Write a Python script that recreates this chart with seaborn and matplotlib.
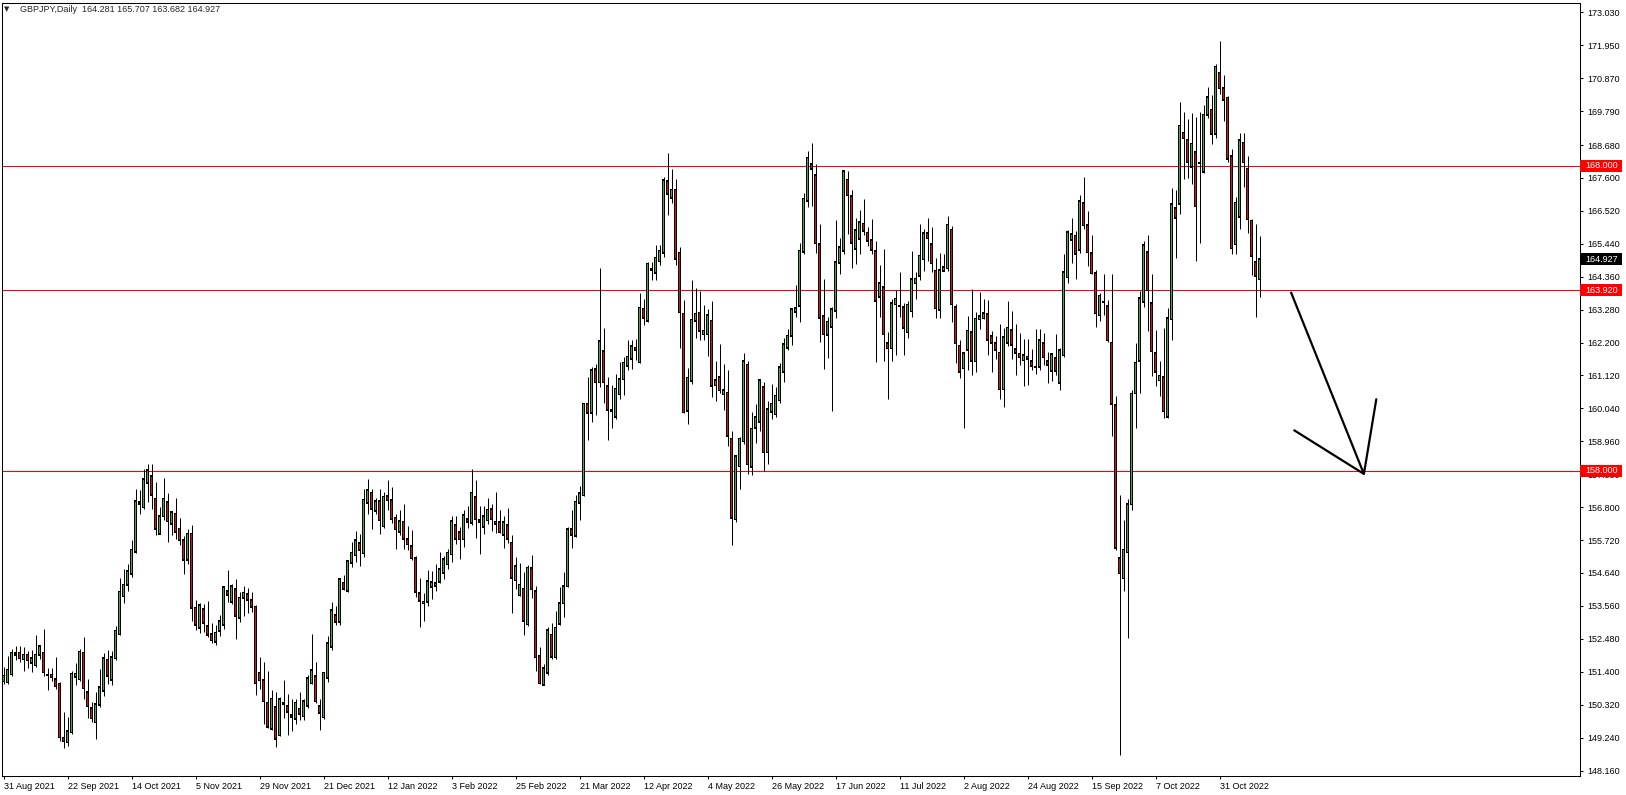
import matplotlib
matplotlib.use("Agg")
import matplotlib.pyplot as plt
import matplotlib.transforms as mtransforms
from matplotlib.patches import Rectangle
import numpy as np
import pandas as pd
import seaborn as sns

symbol = "GBPJPY,Daily"
first_day = "2021-08-31"

opens = [
    151.09, 151.06, 151.31, 152.00, 152.02, 151.81, 151.95, 151.69, 151.62, 151.95,
    152.02, 151.30, 151.30, 151.16, 151.00, 149.23, 149.09, 149.41, 151.24, 151.16,
    152.02, 150.73, 150.21, 149.74, 150.31, 150.78, 151.80, 151.13, 151.84, 152.63,
    153.88, 154.25, 154.62, 155.33, 156.91, 156.80, 157.60, 157.81, 157.08, 155.93,
    156.50, 156.96, 156.26, 156.58, 156.09, 155.71, 155.07, 155.93, 153.50, 152.84,
    153.45, 152.89, 152.63, 152.38, 152.74, 152.95, 154.04, 153.69, 154.11, 153.17,
    153.82, 153.94, 153.75, 153.53, 151.36, 151.12, 150.38, 149.53, 150.23, 149.32,
    150.39, 150.27, 149.97, 149.86, 150.19, 149.94, 150.28, 151.03, 151.25, 150.27,
    149.90, 151.21, 152.22, 153.25, 153.04, 154.32, 154.05, 154.98, 155.22, 155.61,
    155.28, 156.94, 157.27, 156.68, 156.99, 156.18, 157.16, 157.03, 156.46, 155.99,
    156.32, 155.75, 155.52, 155.12, 153.97, 153.64, 153.69, 154.19, 154.22, 154.35,
    154.65, 154.93, 155.25, 156.21, 155.97, 155.74, 156.41, 156.29, 157.12, 156.37,
    156.15, 156.37, 156.73, 156.32, 156.30, 155.90, 156.21, 155.64, 154.40, 153.91,
    154.13, 152.96, 154.79, 154.04, 151.91, 150.98, 151.36, 152.62, 151.87, 152.98,
    153.64, 154.21, 156.07, 155.86, 156.95, 157.19, 160.20, 159.89, 161.33, 160.89,
    161.92, 160.77, 159.96, 159.76, 160.51, 160.99, 161.44, 161.67, 162.03, 161.56,
    163.31, 162.91, 164.62, 164.49, 164.86, 165.14, 167.49, 166.95, 167.21, 165.15,
    163.15, 159.96, 160.94, 162.91, 163.18, 162.47, 162.47, 162.92, 160.80, 161.07,
    160.50, 160.56, 159.05, 156.40, 158.14, 158.96, 161.47, 158.12, 159.40, 159.60,
    160.73, 158.60, 159.93, 159.85, 160.30, 161.25, 162.03, 162.42, 163.21, 163.41,
    165.18, 166.85, 168.05, 167.69, 165.42, 163.07, 162.45, 162.72, 163.24, 164.82,
    165.21, 167.54, 167.00, 165.28, 165.61, 166.10, 165.81, 165.56, 165.20, 163.70,
    164.01, 162.18, 162.01, 163.46, 163.40, 163.36, 162.54, 163.22, 164.15, 164.39,
    164.93, 165.79, 165.43, 164.55, 163.27, 164.56, 164.64, 165.90, 163.36, 162.10,
    161.36, 161.96, 162.54, 161.58, 162.96, 163.00, 163.13, 162.40, 162.18, 161.87,
    160.67, 162.19, 162.60, 161.98, 161.84, 161.62, 161.67, 161.59, 161.40, 161.40,
    162.18, 161.59, 161.28, 161.69, 160.88, 161.78, 164.35, 165.57, 165.70, 165.25,
    166.77, 166.05, 165.13, 164.48, 163.10, 163.54, 163.39, 162.20, 160.15, 155.13,
    154.47, 155.32, 156.90, 160.54, 161.61, 163.54, 165.16, 163.49, 161.85, 160.96,
    161.07, 159.76, 162.96, 166.60, 166.76, 169.08, 168.85, 167.96, 168.45, 168.09,
    167.80, 169.67, 169.83, 169.05, 171.05, 170.55, 170.23, 168.31, 165.42, 166.32,
    168.75, 167.90, 166.19, 164.83, 164.281,
]
highs = [
    151.55, 151.93, 152.15, 152.26, 152.23, 152.20, 152.09, 152.12, 152.62, 152.29,
    152.80, 151.53, 151.53, 151.88, 151.06, 150.09, 149.93, 151.44, 151.69, 152.15,
    152.55, 151.16, 150.40, 150.73, 151.49, 152.02, 152.12, 152.09, 152.91, 154.48,
    154.77, 154.92, 155.71, 157.40, 157.35, 158.04, 158.20, 158.20, 157.64, 156.80,
    157.75, 157.26, 156.69, 157.10, 156.46, 155.87, 156.07, 156.23, 153.77, 153.65,
    153.63, 153.71, 153.00, 152.92, 153.25, 154.22, 154.73, 154.27, 154.43, 154.02,
    154.22, 154.15, 154.02, 153.58, 151.89, 151.72, 151.43, 150.79, 150.72, 150.58,
    151.12, 150.68, 150.49, 150.50, 150.72, 150.52, 151.29, 152.63, 151.72, 150.50,
    151.40, 152.57, 153.69, 153.56, 154.49, 154.57, 155.06, 155.66, 156.01, 155.93,
    157.39, 157.74, 157.38, 157.10, 157.38, 157.30, 157.69, 157.47, 156.59, 156.70,
    156.90, 156.19, 156.05, 155.19, 154.48, 154.00, 154.73, 154.71, 154.93, 155.33,
    155.19, 155.44, 156.50, 156.50, 156.15, 156.70, 156.83, 158.05, 157.69, 156.83,
    156.83, 157.11, 156.90, 157.30, 156.72, 156.50, 156.78, 155.88, 155.17, 154.98,
    154.68, 154.90, 155.22, 154.21, 152.22, 151.67, 152.87, 153.00, 153.40, 154.18,
    154.68, 156.15, 156.70, 157.21, 157.49, 160.23, 161.07, 161.40, 161.49, 164.63,
    162.69, 161.07, 160.82, 161.18, 161.57, 161.71, 162.28, 162.27, 162.33, 163.84,
    163.62, 164.84, 164.84, 165.39, 165.41, 167.63, 168.43, 167.90, 167.57, 165.33,
    163.58, 161.38, 164.24, 163.99, 163.89, 163.42, 163.31, 163.55, 161.60, 162.16,
    161.51, 161.29, 159.29, 158.50, 159.10, 161.86, 161.58, 159.92, 160.19, 161.00,
    160.90, 160.29, 160.84, 160.75, 161.54, 162.34, 162.64, 163.34, 164.08, 165.45,
    167.11, 168.48, 168.75, 168.05, 166.10, 164.30, 163.05, 163.37, 166.21, 165.64,
    167.87, 167.83, 167.19, 166.30, 166.54, 166.92, 165.99, 166.27, 165.52, 164.74,
    165.26, 162.56, 163.63, 163.93, 164.50, 163.49, 163.57, 165.21, 164.53, 166.09,
    165.92, 166.28, 165.98, 164.97, 165.13, 165.11, 166.36, 166.01, 163.46, 162.29,
    161.88, 163.07, 163.95, 163.20, 163.85, 163.62, 163.60, 162.58, 162.40, 162.80,
    162.69, 163.56, 163.22, 162.82, 162.51, 162.31, 162.31, 161.99, 162.66, 162.63,
    162.53, 161.90, 161.87, 162.47, 162.01, 165.11, 165.89, 166.30, 165.86, 167.03,
    167.62, 166.51, 165.73, 164.58, 163.81, 164.44, 163.60, 164.44, 160.44, 157.20,
    156.39, 157.08, 160.63, 162.20, 163.90, 165.54, 165.72, 164.45, 162.61, 161.58,
    162.67, 163.32, 167.28, 167.20, 170.09, 169.78, 169.54, 169.73, 169.59, 169.76,
    169.98, 170.60, 170.32, 171.34, 172.10, 170.98, 170.30, 168.56, 166.98, 169.08,
    169.07, 168.31, 166.27, 166.08, 165.707,
]
lows = [
    151.00, 151.00, 151.27, 151.77, 151.71, 151.44, 151.53, 151.38, 151.55, 151.82,
    151.27, 150.80, 151.11, 150.84, 149.12, 148.89, 148.96, 149.36, 150.95, 151.11,
    150.51, 149.87, 149.74, 149.20, 150.23, 150.62, 151.00, 150.98, 151.77, 152.59,
    153.65, 154.06, 154.51, 155.29, 156.58, 156.75, 156.97, 156.75, 155.90, 155.91,
    156.37, 155.66, 155.90, 155.74, 155.55, 154.62, 154.95, 153.06, 152.78, 152.68,
    152.70, 152.54, 152.34, 152.29, 152.57, 152.81, 153.69, 153.63, 152.46, 153.03,
    153.23, 153.34, 153.36, 150.65, 150.82, 149.70, 149.56, 149.50, 148.93, 149.28,
    149.89, 149.32, 149.46, 149.70, 149.81, 149.81, 150.21, 150.99, 150.38, 149.50,
    149.86, 151.07, 152.11, 152.95, 152.95, 154.07, 154.02, 154.84, 155.00, 154.86,
    155.15, 156.56, 156.07, 156.56, 155.93, 156.13, 156.70, 156.29, 155.42, 155.90,
    155.42, 155.39, 155.06, 153.86, 152.87, 153.06, 153.56, 153.78, 154.05, 154.30,
    154.44, 154.77, 155.00, 155.58, 155.09, 155.50, 156.13, 156.21, 155.80, 155.26,
    155.91, 156.24, 156.02, 155.94, 155.94, 155.47, 155.61, 153.33, 154.13, 153.88,
    152.62, 152.90, 153.83, 151.43, 151.01, 150.96, 151.29, 151.83, 151.83, 152.95,
    153.20, 154.18, 155.46, 155.82, 156.37, 157.17, 159.00, 159.58, 159.82, 160.75,
    160.22, 159.00, 159.41, 159.69, 160.34, 160.47, 161.29, 161.34, 161.62, 161.54,
    162.76, 162.87, 164.26, 164.24, 164.75, 165.00, 166.40, 166.78, 164.76, 162.02,
    159.89, 159.52, 160.83, 162.35, 162.27, 162.27, 161.75, 160.41, 160.27, 160.55,
    160.00, 158.80, 155.55, 156.32, 157.39, 158.88, 157.90, 157.87, 158.90, 159.30,
    158.00, 158.20, 159.68, 159.77, 160.23, 160.92, 161.95, 162.12, 163.05, 162.88,
    165.10, 166.65, 166.67, 165.15, 162.23, 161.32, 161.70, 159.96, 162.99, 164.44,
    165.12, 165.75, 164.65, 164.79, 165.12, 165.72, 165.36, 165.10, 161.57, 163.05,
    161.58, 160.35, 161.58, 161.79, 163.03, 161.79, 162.34, 163.05, 163.63, 164.26,
    164.55, 164.86, 164.53, 162.99, 162.99, 164.55, 164.55, 162.86, 161.52, 161.03,
    159.41, 161.30, 161.12, 161.25, 162.64, 162.98, 161.79, 161.25, 161.65, 160.34,
    160.10, 162.09, 161.65, 161.15, 161.47, 160.78, 160.81, 161.30, 161.18, 161.30,
    161.47, 160.88, 160.93, 161.12, 160.65, 161.72, 164.16, 164.82, 164.29, 165.13,
    165.92, 164.70, 164.44, 162.72, 162.91, 163.10, 162.22, 159.12, 155.41, 148.67,
    154.06, 152.52, 156.70, 159.40, 160.56, 163.38, 162.59, 161.09, 160.76, 160.46,
    159.73, 159.73, 162.29, 164.99, 166.41, 167.56, 167.60, 167.39, 164.88, 165.47,
    167.77, 169.57, 168.72, 168.92, 170.34, 169.46, 168.12, 165.09, 165.10, 165.91,
    167.30, 165.78, 164.41, 163.03, 163.682,
]
closes = [
    151.27, 151.46, 152.02, 151.96, 151.84, 151.95, 151.78, 151.85, 151.95, 152.23,
    151.38, 151.29, 151.22, 150.92, 149.25, 149.12, 149.45, 151.33, 151.33, 152.06,
    150.86, 150.27, 149.87, 150.34, 150.89, 151.85, 151.27, 151.88, 152.75, 154.03,
    154.25, 154.69, 155.41, 156.99, 156.96, 157.71, 158.01, 157.21, 156.09, 156.50,
    157.08, 156.33, 156.63, 156.00, 155.71, 155.07, 155.93, 153.50, 152.94, 153.58,
    153.01, 152.62, 152.43, 152.68, 153.05, 154.17, 153.93, 154.20, 153.23, 153.83,
    154.00, 153.77, 153.53, 151.03, 151.12, 150.44, 149.59, 150.52, 149.21, 150.49,
    150.35, 150.08, 149.92, 150.39, 150.03, 150.43, 151.18, 151.45, 150.44, 150.06,
    151.36, 152.33, 153.42, 153.04, 154.44, 154.13, 155.03, 155.31, 155.72, 155.41,
    157.05, 157.36, 156.75, 156.99, 156.37, 157.14, 157.03, 156.41, 156.08, 156.34,
    155.77, 155.59, 155.12, 154.02, 153.73, 153.70, 154.37, 154.33, 154.30, 154.77,
    155.09, 155.31, 156.34, 155.77, 155.74, 156.54, 156.32, 157.28, 156.41, 156.32,
    156.50, 156.72, 156.41, 156.26, 155.97, 156.30, 155.77, 154.49, 154.86, 154.26,
    153.07, 154.82, 154.10, 151.87, 151.03, 151.51, 152.76, 151.89, 152.85, 153.64,
    154.21, 156.07, 155.90, 156.97, 157.25, 160.20, 159.89, 161.29, 160.89, 162.24,
    160.89, 160.00, 159.98, 160.69, 160.99, 161.54, 161.73, 162.08, 161.97, 163.34,
    163.02, 164.79, 164.59, 164.98, 165.22, 167.52, 167.08, 167.21, 164.95, 163.20,
    159.92, 161.05, 162.95, 163.15, 162.58, 162.58, 163.09, 160.78, 160.96, 160.63,
    160.63, 159.14, 156.45, 158.47, 159.05, 161.58, 158.20, 159.38, 159.75, 160.97,
    158.60, 160.01, 160.20, 160.46, 161.39, 162.14, 162.42, 163.29, 163.32, 165.21,
    166.92, 168.26, 167.90, 165.45, 163.01, 162.48, 162.88, 163.29, 164.83, 165.32,
    167.82, 167.03, 165.47, 165.88, 166.14, 165.86, 165.54, 165.25, 163.57, 164.14,
    162.47, 162.01, 163.49, 163.63, 163.41, 162.69, 163.44, 164.28, 164.29, 165.04,
    165.79, 165.62, 164.80, 163.33, 164.58, 164.67, 166.06, 163.46, 162.18, 161.25,
    161.85, 162.58, 161.61, 162.98, 163.07, 163.16, 162.29, 162.20, 161.96, 160.67,
    162.37, 162.69, 162.13, 161.87, 161.72, 161.78, 161.74, 161.44, 161.41, 162.28,
    161.72, 161.47, 161.82, 161.28, 161.94, 164.50, 165.82, 165.76, 165.11, 166.84,
    166.05, 165.17, 164.48, 163.16, 163.73, 163.53, 162.28, 160.19, 155.47, 154.63,
    155.41, 156.89, 160.52, 161.54, 163.65, 165.40, 163.92, 161.91, 161.25, 161.11,
    159.94, 163.00, 166.74, 166.30, 169.32, 168.91, 168.12, 168.72, 166.68, 168.08,
    169.67, 170.25, 169.05, 171.25, 170.55, 170.16, 168.23, 165.29, 166.79, 168.83,
    168.12, 166.24, 165.05, 164.39, 164.927,
]

# horizontal support / resistance lines drawn on the chart
levels = [168.0, 163.92, 158.0]

# price scale labels on the right
price_ticks = [173.03, 171.95, 170.87, 169.79, 168.68, 167.60, 166.52, 165.44,
               164.36, 163.28, 162.20, 161.12, 160.04, 158.96, 157.88, 156.80,
               155.72, 154.64, 153.56, 152.48, 151.40, 150.32, 149.24, 148.16]

# hand drawn arrow (bar index, price)
arrow_x = [321.9, 340.1, 343.2]
arrow_y = [163.84, 157.89, 160.34]
wing_x = [340.1, 322.7]
wing_y = [157.89, 159.32]

bull = "#30b830"
bear = "#e01010"

sns.set_theme(style="white")
plt.rcParams['font.family'] = ['Liberation Sans', 'DejaVu Sans']

W, H = 1626, 795
fig = plt.figure(figsize=(W / 100, H / 100), dpi=100)
fig.patch.set_facecolor("white")
ax = fig.add_axes([2 / W, 19 / H, 1578 / W, 773 / H])
ax.set_facecolor("white")

o = np.array(opens)
h = np.array(highs)
l = np.array(lows)
c = np.array(closes)
n = len(c)
idx = np.arange(n)

px = 1 / 30.48            # one screen pixel in price units
up = c >= o
body_lo = np.minimum(o, c)
body_hi = np.maximum(o, c)
cols = np.where(up, bull, bear)

# wicks, black outline boxes, then coloured fill inside
ax.vlines(idx, l, h, color="black", linewidth=0.72, zorder=3)
ax.bar(idx, body_hi - body_lo + 2 * px, bottom=body_lo - px, width=0.75,
       color="black", linewidth=0, zorder=4)
inner = np.maximum(body_hi - body_lo - px, 0)
ax.bar(idx, inner, bottom=body_lo + px / 2, width=0.25, color=cols,
       linewidth=0, zorder=5)

for lv in levels:
    ax.axhline(lv, color="red", linewidth=0.75, zorder=2)

ax.plot(arrow_x, arrow_y, color="black", linewidth=1.6, solid_joinstyle="miter", zorder=6)
ax.plot(wing_x, wing_y, color="black", linewidth=1.6, zorder=6)

ax.set_xlim(-0.375, 394.125)
ax.set_ylim(147.98, 173.34)

for s in ax.spines.values():
    s.set_color("black")
    s.set_linewidth(0.75)
    s.set_visible(True)

# right price scale
ax.yaxis.tick_right()
ax.set_yticks(price_ticks)
ax.set_yticklabels([f"{v:.3f}" for v in price_ticks])
ax.tick_params(axis="y", direction="out", length=2.5, width=0.75, pad=3,
               labelsize=6.5, colors="black", right=True, left=False)

# date scale
dates = pd.bdate_range(first_day, periods=n)
step = 16
ax.set_xticks(idx[::step])
ax.set_xticklabels([f"{d.day} {d:%b %Y}" for d in dates[::step]])
ax.tick_params(axis="x", direction="out", length=2.5, width=0.75, pad=2,
               labelsize=6.5, colors="black", bottom=True)
for lbl in ax.get_xticklabels():
    lbl.set_horizontalalignment("left")
ax.grid(False)

# coloured price tags on the scale
trans = mtransforms.blended_transform_factory(ax.transAxes, ax.transData)
tag_w = 42 / 1578
tag_h = 12 * px


def price_tag(value, face):
    ax.add_patch(Rectangle((1.0, value - tag_h / 2), tag_w, tag_h, transform=trans,
                           facecolor=face, edgecolor="none", clip_on=False, zorder=10))
    ax.text(1.0 + 5 / 1578, value, f"{value:.3f}", transform=trans, ha="left",
            va="center", fontsize=6.5, color="white", clip_on=False, zorder=11)


for lv in levels:
    price_tag(lv, "red")
price_tag(closes[-1], "black")

# header
head = f"{symbol}  {opens[-1]:.3f} {highs[-1]:.3f} {lows[-1]:.3f} {closes[-1]:.3f}"
fig.text(3.5 / W, 1 - 9.5 / H, "\u25bc", fontsize=5, va="center", ha="left",
         family=["DejaVu Sans"])
fig.text(20 / W, 1 - 9.5 / H, head, fontsize=6.5, va="center", ha="left")

fig.savefig("out.png", dpi=100)
